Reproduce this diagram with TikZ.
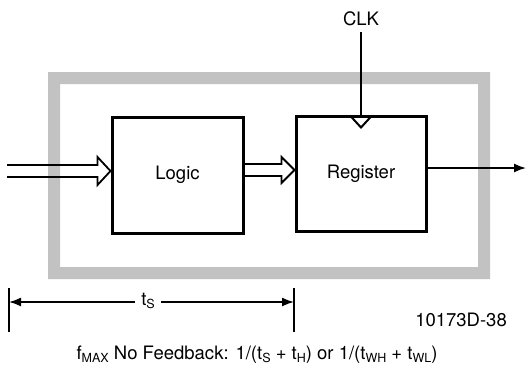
\documentclass[tikz,border=0pt]{standalone}
\usepackage{fontspec}
\setmainfont{TeX Gyre Heros}
\usetikzlibrary{calc,arrows.meta}
\newcommand\sbx[1]{\raisebox{-0.3ex}{\fontsize{12.5}{13}\selectfont #1}}
\begin{document}
\begin{tikzpicture}[x=1pt,y=-1pt,
  txt/.style={font=\fontsize{18.5}{20}\selectfont, inner sep=0pt},
  blk/.style={draw, line width=3pt, inner sep=0pt},
  wire/.style={line width=1.6pt},
  hollow/.style={line width=1.8pt, line join=miter}]
\useasboundingbox (0,0) rectangle (527,365);
% shaded frame
\fill[black!24, even odd rule] (48,72) rectangle (490,279) (60,84) rectangle (478,267);
% blocks
\node[blk, minimum width=131pt, minimum height=116pt, txt] (logic) at (177.5,175) {Logic};
\node[blk, minimum width=130pt, minimum height=115pt, txt] (reg) at (361,173.5) {Register};
\node[txt] (clk) at (361,19) {CLK};
\coordinate (in) at (7,171);
\coordinate (out) at (526,168);
% clock
\draw[wire] (clk.south) ++(0,6) -- (reg.north);
\draw[line width=2pt, line join=miter] ($(reg.north)+(-11,1)$) -- ($(reg.north)+(0,13)$) -- ($(reg.north)+(11,1)$);
% output
\draw[wire, -{Latex[length=12pt,width=9pt]}] (reg.east |- out) -- (out);
% input hollow arrow
\draw[hollow] ($(in)+(0,-6)$) -- ($(logic.west |- in)+(-13,-6)$) -- ($(logic.west |- in)+(-13,-14)$)
  -- (logic.west |- in) -- ($(logic.west |- in)+(-13,14)$) -- ($(logic.west |- in)+(-13,6)$) -- ($(in)+(0,6)$);
% logic to register hollow arrow
\coordinate (mid) at (246,170);
\draw[hollow] ($(logic.east |- mid)+(0,-6)$) -- ($(reg.west |- mid)+(-13,-6)$) -- ($(reg.west |- mid)+(-13,-13)$)
  -- (reg.west |- mid) -- ($(reg.west |- mid)+(-13,13)$) -- ($(reg.west |- mid)+(-13,6)$) -- ($(logic.east |- mid)+(0,6)$);
% timing dimension
\coordinate (dl) at (9,302);
\coordinate (dr) at (294,302);
\draw[wire] ($(dl)+(0,-14)$) -- ($(dl)+(0,30)$);
\draw[wire] ($(dr)+(0,-14)$) -- ($(dr)+(0,30)$);
\node[txt, fill=white, inner xsep=6pt] (ts) at (148,301) {t\sbx{S}};
\draw[wire, -{Latex[length=12pt,width=9pt]}] (ts.west |- dl) -- (dl);
\draw[wire, -{Latex[length=12pt,width=9pt]}] (ts.east |- dr) -- (dr);
\node[txt, anchor=east] (id) at (507,320) {10173D-38};
\node[txt] (fm) at (257,355) {f\sbx{MAX} No Feedback: 1/(t\sbx{S} + t\sbx{H}) or 1/(t\sbx{WH} + t\sbx{WL})};
\end{tikzpicture}
\end{document}
